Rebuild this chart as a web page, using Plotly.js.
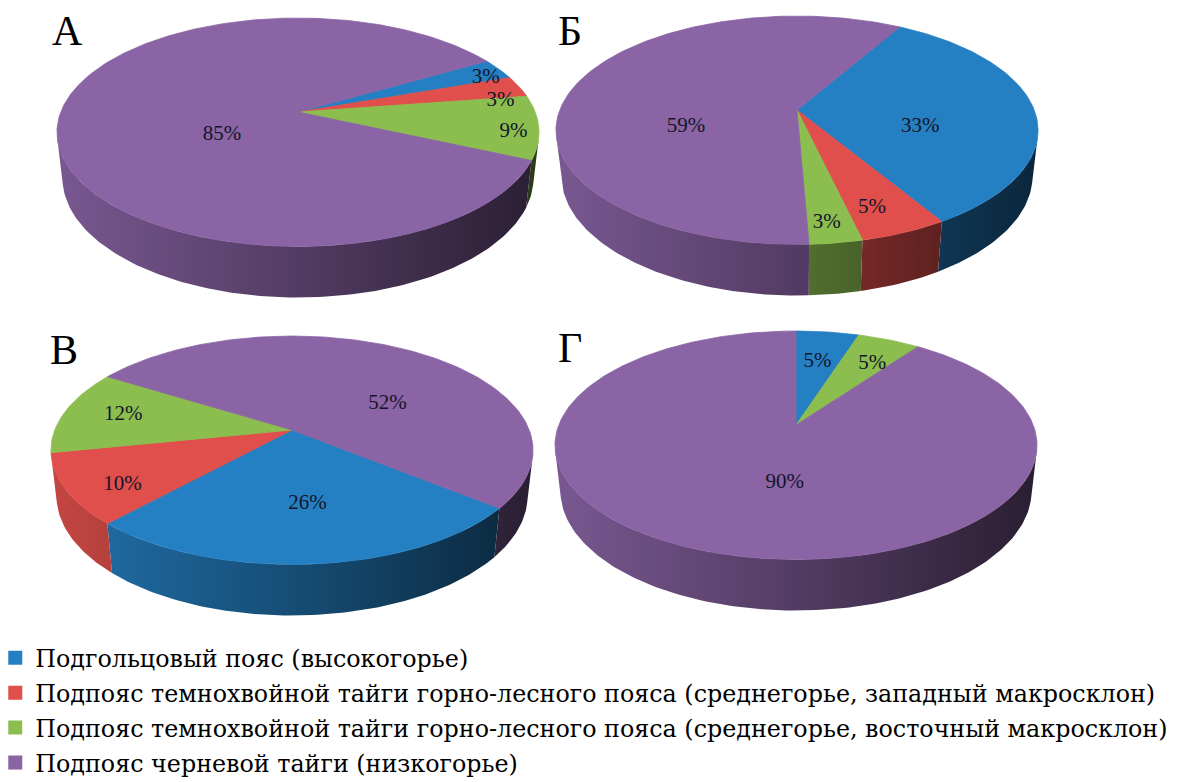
<!DOCTYPE html>
<html>
<head>
<meta charset="utf-8">
<script src="https://cdn.plot.ly/plotly-3.0.1.min.js"></script>
<style>html,body{margin:0;padding:0;background:#fff;}#chart{width:1184px;height:782px;}</style>
</head>
<body>
<div id="chart"></div>
<script>
// ---------- data ----------
const categories = [
  'Подгольцовый пояс (высокогорье)',
  'Подпояс темнохвойной тайги горно-лесного пояса (среднегорье, западный макросклон)',
  'Подпояс темнохвойной тайги горно-лесного пояса (среднегорье, восточный макросклон)',
  'Подпояс черневой тайги (низкогорье)'
];
const pieTitles = ['А', 'Б', 'В', 'Г'];
const valuesA = [3, 3, 9, 85];
const valuesB = [33, 5, 3, 59];
const valuesV = [26, 10, 12, 52];
const valuesG = [5, 0, 5, 90];

// ---------- style / layout settings ----------
const seriesColors = ['#2580C3', '#E04F4B', '#8BBD4F', '#8A64A5'];
const pieValues = [valuesA, valuesB, valuesV, valuesG];
const pieCenters = [[298, 112], [797, 110], [292, 430], [796, 425]];
const pieStartAngles = [60, 30, 129, 0];       // degrees, clockwise from 12 o'clock
const titlePos = [[67, 31], [570, 31], [64, 350], [570, 348]];
// label placement nudges (px) per pie / slice
const labelNudges = [
  [[21, -7], [20, 2], [19, -1], [24, 12]],
  [[-7, 9], [-10, -7], [-1, 0], [-16, 20]],
  [[5, -1], [13, -1], [18, -8], [41, 1]],
  [[-5, 7], [0, 0], [-2, 2], [22, 2]]
];
const SERIF = '"Liberation Serif", "Times New Roman", "DejaVu Serif", serif';

const EL = 30 * Math.PI / 180, DIST = 5, THICK = 0.22, SCALE = 232;

function proj(u, v, w) {
  const a = -v * Math.cos(EL) + w * Math.sin(EL);
  const s = DIST / (DIST - a);
  return [u * s * SCALE, (v * Math.sin(EL) + w * Math.cos(EL)) * s * SCALE];
}
const apexUp = proj(0, 0, THICK)[1];
function toPix(c, r, thDeg, w) {
  const th = thDeg * Math.PI / 180;
  const p = proj(r * Math.sin(th), r * Math.cos(th), w);
  return [c[0] + p[0], c[1] - (p[1] - apexUp)];
}
function hexRgb(h) { return [1, 3, 5].map(i => parseInt(h.substr(i, 2), 16)); }
function shade(h, f) { const c = hexRgb(h); return 'rgb(' + c.map(x => Math.round(Math.min(255, x * f))).join(',') + ')'; }

const tanAng = Math.acos(-1 / (DIST * Math.cos(EL))) * 180 / Math.PI;

const sideTraces = [], topTraces = [], labelTraces = [];

pieValues.forEach((vals, p) => {
  const c = pieCenters[p];
  const total = vals.reduce((a, b) => a + b, 0);
  const left = toPix(c, 1, 270, 0)[0] - 10, right = toPix(c, 1, 90, 0)[0] + 10;
  let ang = pieStartAngles[p];
  const lx = [], ly = [], lt = [];
  vals.forEach((v, i) => {
    if (v <= 0) return;
    const a0 = ang, a1 = ang + v / total * 360;
    ang = a1;
    const col = seriesColors[i];
    for (let k = -1; k <= 1; k++) {
      const s0 = Math.max(a0, tanAng + 360 * k), s1 = Math.min(a1, 360 - tanAng + 360 * k);
      if (s1 <= s0) continue;
      const xs = [], ys = [];
      const n = Math.max(2, Math.ceil(s1 - s0));
      for (let j = 0; j <= n; j++) { const t = s0 + (s1 - s0) * j / n; const q = toPix(c, 1, t, THICK); xs.push(q[0]); ys.push(q[1]); }
      for (let j = n; j >= 0; j--) { const t = s0 + (s1 - s0) * j / n; const q = toPix(c, 1, t, 0); xs.push(q[0]); ys.push(q[1]); }
      sideTraces.push({
        type: 'scatter', mode: 'lines', x: xs, y: ys, fill: 'toself',
        line: { width: 0 }, hoverinfo: 'skip', showlegend: false,
        fillgradient: { type: 'horizontal', start: left, stop: right,
          colorscale: [[0, shade(col, 0.88)], [0.5, shade(col, 0.6)], [1, shade(col, 0.3)]] }
      });
    }
    const xs = [], ys = [];
    const ap = toPix(c, 0, 0, THICK); xs.push(ap[0]); ys.push(ap[1]);
    const n = Math.max(2, Math.ceil(a1 - a0));
    for (let j = 0; j <= n; j++) { const t = a0 + (a1 - a0) * j / n; const q = toPix(c, 1, t, THICK); xs.push(q[0]); ys.push(q[1]); }
    xs.push(ap[0]); ys.push(ap[1]);
    topTraces.push({
      type: 'scatter', mode: 'lines', x: xs, y: ys, fill: 'toself', fillcolor: col,
      line: { width: 0.8, color: col }, hoverinfo: 'skip', showlegend: false
    });
    const share = v / total;
    const rl = share >= 0.5 ? 0.42 : (share >= 0.2 ? 0.55 : 0.82);
    const lp = toPix(c, rl, (a0 + a1) / 2, THICK);
    const nd = labelNudges[p][i];
    lx.push(lp[0] + nd[0]); ly.push(lp[1] + 8 + nd[1]); lt.push(v + '%');
  });
  labelTraces.push({
    type: 'scatter', mode: 'text', x: lx, y: ly, text: lt, textposition: 'middle center',
    textfont: { family: SERIF, size: 21, color: '#15152a' },
    hoverinfo: 'skip', showlegend: false
  });
});

const legendTraces = categories.map((name, i) => ({
  type: 'scatter', mode: 'markers', x: [null], y: [null], name: name, legendgroup: 'g' + i,
  marker: { symbol: 'square', size: 14, color: seriesColors[i] }, showlegend: true, hoverinfo: 'skip'
}));

const annotations = pieTitles.map((t, i) => ({
  x: titlePos[i][0], y: titlePos[i][1], xref: 'x', yref: 'y', text: t, showarrow: false,
  font: { family: SERIF, size: 42, color: '#000' }
}));

const layout = {
  width: 1184, height: 782,
  margin: { l: 0, r: 0, t: 0, b: 0, autoexpand: false },
  paper_bgcolor: '#ffffff', plot_bgcolor: '#ffffff',
  xaxis: { range: [0, 1184], visible: false, fixedrange: true },
  yaxis: { range: [782, 0], visible: false, fixedrange: true },
  showlegend: true,
  legend: {
    x: -0.004, xanchor: 'left', y: 0.187, yanchor: 'top',
    font: { family: '"DejaVu Serif", serif', size: 23.8, color: '#000' },
    bgcolor: 'rgba(0,0,0,0)', tracegroupgap: 1, itemclick: false, itemdoubleclick: false
  },
  annotations: annotations
};

Plotly.newPlot('chart', [...sideTraces, ...topTraces, ...labelTraces, ...legendTraces], layout,
  { displayModeBar: false, staticPlot: true });
</script>
</body>
</html>
